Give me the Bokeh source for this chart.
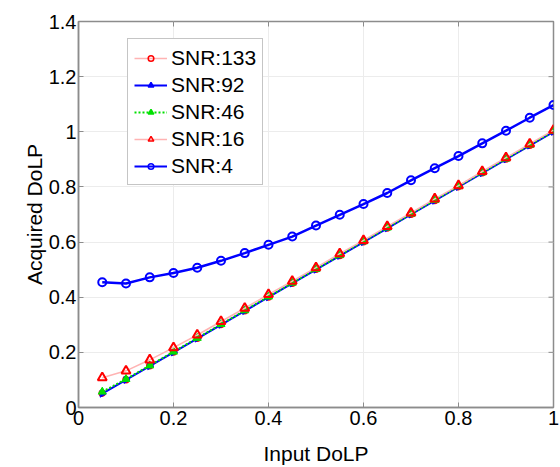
import numpy as np
from bokeh.plotting import figure
from bokeh.models import ColumnDataSource, Legend, LegendItem, FixedTicker, Range1d
from bokeh.embed import file_html
from bokeh.resources import INLINE

input_dolp = [0.05, 0.10, 0.15, 0.20, 0.25, 0.30, 0.35, 0.40, 0.45, 0.50,
              0.55, 0.60, 0.65, 0.70, 0.75, 0.80, 0.85, 0.90, 0.95, 1.00]
snr133 = [0.052, 0.101, 0.151, 0.201, 0.251, 0.301, 0.351, 0.401, 0.451, 0.501,
          0.551, 0.601, 0.651, 0.701, 0.751, 0.801, 0.851, 0.901, 0.951, 1.001]
snr92 = [0.050, 0.100, 0.150, 0.200, 0.250, 0.300, 0.350, 0.400, 0.450, 0.500,
         0.550, 0.600, 0.650, 0.700, 0.750, 0.800, 0.850, 0.900, 0.950, 1.000]
snr46 = [0.057, 0.103, 0.152, 0.202, 0.252, 0.302, 0.352, 0.402, 0.452, 0.502,
         0.552, 0.602, 0.652, 0.702, 0.752, 0.802, 0.852, 0.902, 0.952, 1.002]
snr16 = [0.108, 0.133, 0.173, 0.217, 0.263, 0.312, 0.360, 0.410, 0.458, 0.507,
         0.558, 0.606, 0.657, 0.706, 0.757, 0.805, 0.856, 0.906, 0.956, 1.006]
snr4 = [0.454, 0.450, 0.472, 0.488, 0.507, 0.532, 0.560, 0.590, 0.620, 0.660,
        0.699, 0.738, 0.778, 0.824, 0.868, 0.912, 0.958, 1.004, 1.051, 1.097]

x_ticks = [0, 0.2, 0.4, 0.6, 0.8, 1]
y_ticks = [0, 0.2, 0.4, 0.6, 0.8, 1, 1.2, 1.4]
x_tick_labels = {0: "0", 0.2: "0.2", 0.4: "0.4", 0.6: "0.6", 0.8: "0.8", 1: "1"}
y_tick_labels = {0: "0", 0.2: "0.2", 0.4: "0.4", 0.6: "0.6", 0.8: "0.8", 1: "1", 1.2: "1.2", 1.4: "1.4"}
x_lim = (0, 1)
y_lim = (0, 1.4)

FONT = "Liberation Sans"
GRAY = "#8c8c8c"

p = figure(width=560, height=467, output_backend="svg", toolbar_location=None,
           x_range=Range1d(*x_lim), y_range=Range1d(*y_lim),
           min_border_left=78, min_border_right=7, min_border_top=21, min_border_bottom=54,
           x_axis_label="Input DoLP", y_axis_label="Acquired DoLP")
p.background_fill_color = "white"
p.border_fill_color = "white"
p.outline_line_color = GRAY
p.outline_line_width = 1.5

for ax in (p.xaxis[0], p.yaxis[0]):
    ax.axis_line_color = GRAY
    ax.axis_line_width = 1.5
    ax.major_tick_line_color = GRAY
    ax.major_tick_in = 5
    ax.major_tick_out = 0
    ax.minor_tick_line_color = None
    ax.major_label_text_font = FONT
    ax.major_label_text_font_size = "20px"
    ax.major_label_text_color = "black"
    ax.axis_label_text_font = FONT
    ax.axis_label_text_font_size = "21px"
    ax.axis_label_text_font_style = "normal"
    ax.axis_label_text_color = "black"
p.xaxis[0].ticker = FixedTicker(ticks=x_ticks)
p.yaxis[0].ticker = FixedTicker(ticks=y_ticks)
p.xaxis[0].major_label_overrides = x_tick_labels
p.yaxis[0].major_label_overrides = y_tick_labels
p.xaxis[0].major_label_standoff = 3
p.yaxis[0].major_label_standoff = 2
p.xaxis[0].axis_label_standoff = 14
p.yaxis[0].axis_label_standoff = 0

p.xgrid.ticker = FixedTicker(ticks=x_ticks)
p.ygrid.ticker = FixedTicker(ticks=y_ticks)
p.xgrid.grid_line_color = "#ececec"
p.ygrid.grid_line_color = "#ececec"

# mirrored inward ticks on right and top edges (half of each dash is clipped by the frame)
p.scatter(x=[x_lim[1]] * len(y_ticks), y=y_ticks, marker="dash", size=10,
          line_color=GRAY, line_width=1)
p.scatter(x=x_ticks, y=[y_lim[1]] * len(x_ticks), marker="dash", angle=np.pi / 2, size=10,
          line_color=GRAY, line_width=1)

src = ColumnDataSource(dict(x=input_dolp, s133=snr133, s92=snr92, s46=snr46, s16=snr16, s4=snr4))
hidden = ColumnDataSource(dict(x=[np.nan], y=[np.nan]))

pink = "#ffb3b3"
RED = "#ff0000"
BLUE = "#0000ff"
GREEN = "#00e000"

p.line("x", "s133", source=src, line_color=pink, line_width=1.5)
p.scatter("x", "s133", source=src, marker="circle", size=6, fill_color=None,
          line_color=RED, line_width=1.5)
p.line("x", "s92", source=src, line_color=BLUE, line_width=2)
p.scatter("x", "s92", source=src, marker="triangle", angle=-np.pi / 2, size=7,
          fill_color=BLUE, line_color=BLUE, line_width=1)
p.line("x", "s46", source=src, line_color=GREEN, line_width=2, line_dash="2 2")
p.scatter("x", "s46", source=src, marker="triangle", size=8,
          fill_color=GREEN, line_color=GREEN, line_width=1)
p.line("x", "s16", source=src, line_color=pink, line_width=1.5)
p.scatter("x", "s16", source=src, marker="triangle", size=9, fill_color=None,
          line_color=RED, line_width=2)
p.line("x", "s4", source=src, line_color=BLUE, line_width=2.5)
p.scatter("x", "s4", source=src, marker="circle", size=8, fill_color=None,
          line_color=BLUE, line_width=2)

# legend-only renderers (NaN data, so nothing drawn in the plot)
def leg(line_color, line_dash, line_width, marker, fill, mcolor):
    l = p.line("x", "y", source=hidden, line_color=line_color, line_width=line_width,
               line_dash=line_dash)
    m = p.scatter("x", "y", source=hidden, marker=marker, size=5,
                  fill_color=fill, line_color=mcolor, line_width=1.5)
    return [l, m]

legend = Legend(items=[
    LegendItem(label="SNR:133", renderers=leg(pink, "solid", 1.5, "circle", None, RED)),
    LegendItem(label="SNR:92", renderers=leg(BLUE, "solid", 2, "triangle", BLUE, BLUE)),
    LegendItem(label="SNR:46", renderers=leg(GREEN, "2 2", 2, "triangle", GREEN, GREEN)),
    LegendItem(label="SNR:16", renderers=leg(pink, "solid", 1.5, "triangle", None, RED)),
    LegendItem(label="SNR:4", renderers=leg(BLUE, "solid", 2, "circle", None, BLUE)),
], location=(49, 222))
legend.label_text_font = FONT
legend.label_text_font_size = "21px"
legend.label_text_color = "black"
legend.label_height = 25
legend.glyph_height = 14
legend.glyph_width = 33
legend.label_standoff = 4
legend.spacing = 2
legend.padding = 6
legend.margin = 0
legend.border_line_color = GRAY
legend.border_line_width = 1.5
legend.background_fill_color = "white"
legend.background_fill_alpha = 1
p.add_layout(legend, "center")

open("out.html", "w").write(file_html(p, INLINE))
